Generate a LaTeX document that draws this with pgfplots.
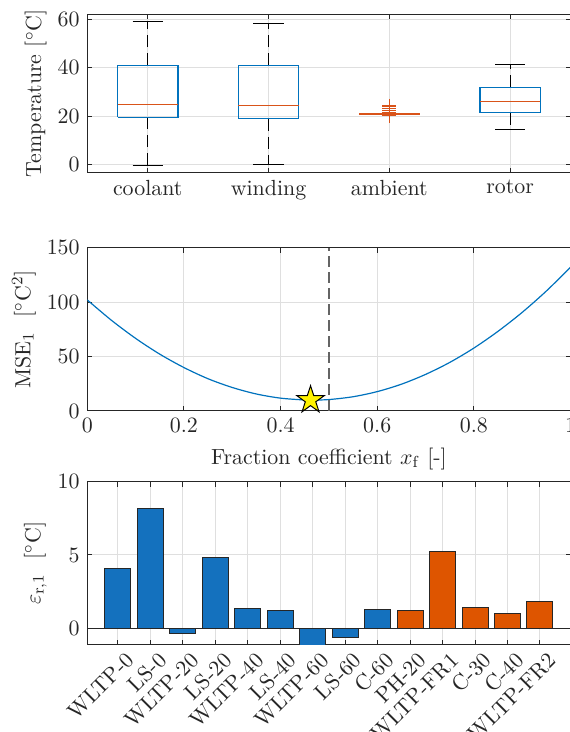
\documentclass[11pt,border=0pt]{standalone}
\usepackage{pgfplots}
\pgfplotsset{compat=1.18}
\definecolor{mblue}{RGB}{0,114,189}
\definecolor{morange}{RGB}{217,83,25}
\definecolor{barblue}{RGB}{20,113,190}
\definecolor{barorange}{RGB}{222,85,0}
\definecolor{axc}{RGB}{38,38,38}
\definecolor{gridc}{RGB}{223,223,223}
\definecolor{dashc}{RGB}{100,100,100}
\pgfdeclareplotmark{pentastar}{%
  \pgfpathmoveto{\pgfpointpolar{90}{\pgfplotmarksize}}%
  \pgfpathlineto{\pgfpointpolar{126}{0.382\pgfplotmarksize}}%
  \pgfpathlineto{\pgfpointpolar{162}{\pgfplotmarksize}}%
  \pgfpathlineto{\pgfpointpolar{198}{0.382\pgfplotmarksize}}%
  \pgfpathlineto{\pgfpointpolar{234}{\pgfplotmarksize}}%
  \pgfpathlineto{\pgfpointpolar{270}{0.382\pgfplotmarksize}}%
  \pgfpathlineto{\pgfpointpolar{306}{\pgfplotmarksize}}%
  \pgfpathlineto{\pgfpointpolar{342}{0.382\pgfplotmarksize}}%
  \pgfpathlineto{\pgfpointpolar{18}{\pgfplotmarksize}}%
  \pgfpathlineto{\pgfpointpolar{54}{0.382\pgfplotmarksize}}%
  \pgfpathclose
  \pgfusepathqfillstroke}
\pgfplotsset{myax/.style={
  scale only axis, width=241.6pt, anchor=south west,
  axis line style={axc, line width=0.5pt},
  tick style={axc, line width=0.5pt},
  major tick length=2.5pt, tick align=inside,
  grid=major, major grid style={gridc, line width=0.5pt},
  tick label style={text=axc},
  label style={text=axc},
  ylabel shift=-2pt,
}}
\begin{document}
\begin{tikzpicture}
% ---------- top: boxplots ----------
\begin{axis}[myax, at={(43.65pt,279.65pt)}, height=79.2pt,
  xmin=0.5, xmax=4.5, ymin=-3.2, ymax=62.1,
  xtick={1,2,3,4}, xticklabels={coolant,winding,ambient,rotor},
  ytick={0,20,40,60},
  ylabel={Temperature [$^\circ$C]}]
% whiskers (dashed)
\addplot[black, line width=0.5pt, dash pattern=on 6pt off 3pt] coordinates {(1,41.1) (1,59.3)};
\addplot[black, line width=0.5pt, dash pattern=on 6pt off 3pt] coordinates {(1,19.7) (1,-0.2)};
\addplot[black, line width=0.5pt, dash pattern=on 6pt off 3pt] coordinates {(2,41.1) (2,58.2)};
\addplot[black, line width=0.5pt, dash pattern=on 6pt off 3pt] coordinates {(2,19.0) (2,0.1)};
\addplot[black, line width=0.5pt, dash pattern=on 6pt off 3pt] coordinates {(4,32.0) (4,41.4)};
\addplot[black, line width=0.5pt, dash pattern=on 6pt off 3pt] coordinates {(4,21.5) (4,14.4)};
% caps
\addplot[black, line width=0.5pt] coordinates {(0.875,59.3) (1.125,59.3)};
\addplot[black, line width=0.5pt] coordinates {(0.875,-0.2) (1.125,-0.2)};
\addplot[black, line width=0.5pt] coordinates {(1.875,58.2) (2.125,58.2)};
\addplot[black, line width=0.5pt] coordinates {(1.875,0.1) (2.125,0.1)};
\addplot[black, line width=0.5pt] coordinates {(2.875,20.8) (3.125,20.8)};
\addplot[black, line width=0.5pt] coordinates {(2.875,21.3) (3.125,21.3)};
\addplot[black, line width=0.5pt] coordinates {(3.875,41.4) (4.125,41.4)};
\addplot[black, line width=0.5pt] coordinates {(3.875,14.4) (4.125,14.4)};
% boxes
\addplot[mblue, line width=0.6pt] coordinates {(0.75,19.7) (1.25,19.7) (1.25,41.1) (0.75,41.1) (0.75,19.7)};
\addplot[mblue, line width=0.6pt] coordinates {(1.75,19.0) (2.25,19.0) (2.25,41.1) (1.75,41.1) (1.75,19.0)};
\addplot[mblue, line width=0.6pt] coordinates {(2.75,20.9) (3.25,20.9) (3.25,21.2) (2.75,21.2) (2.75,20.9)};
\addplot[mblue, line width=0.6pt] coordinates {(3.75,21.5) (4.25,21.5) (4.25,32.0) (3.75,32.0) (3.75,21.5)};
% medians
\addplot[morange, line width=0.6pt] coordinates {(0.75,24.8) (1.25,24.8)};
\addplot[morange, line width=0.6pt] coordinates {(1.75,24.4) (2.25,24.4)};
\addplot[morange, line width=0.7pt] coordinates {(2.75,21.05) (3.25,21.05)};
\addplot[morange, line width=0.6pt] coordinates {(3.75,26.1) (4.25,26.1)};
% outliers
\addplot[only marks, mark=+, mark size=3.5pt, morange, mark options={line width=0.6pt}]
  coordinates {(3,24.3) (3,23.2) (3,22.4) (3,21.4) (3,20.8) (3,20.3)};
\end{axis}
% ---------- middle: MSE curve ----------
\begin{axis}[myax, at={(43.65pt,160.5pt)}, height=81.65pt,
  xmin=0, xmax=1, ymin=0, ymax=150,
  xtick={0,0.2,0.4,0.6,0.8,1}, ytick={0,50,100,150},
  xlabel={Fraction coefficient $x_\mathrm{f}$ [-]},
  ylabel={MSE$_1$\ \ [$^\circ$C$^2$]},
  clip mode=individual]
\addplot[mblue, line width=0.6pt, smooth] coordinates {
(0,102.0) (0.05,83.3) (0.1,66.7) (0.15,52.2) (0.2,39.9) (0.25,29.6)
(0.3,21.6) (0.35,15.6) (0.4,11.8) (0.45,10.1) (0.4648,10.0) (0.5,10.5)
(0.55,13.1) (0.6,17.8) (0.65,24.6) (0.7,33.6) (0.75,44.6) (0.8,57.8)
(0.85,73.2) (0.9,90.6) (0.95,110.2) (1.0,132.0)};
\addplot[dashc, line width=0.6pt, dash pattern=on 5.5pt off 2.5pt] coordinates {(0.5,0) (0.5,150)};
\addplot[only marks, mark=pentastar, mark size=7.2pt, mark options={fill=yellow, draw=black, line width=0.5pt}]
  coordinates {(0.462,10.0)};
\end{axis}
% ---------- bottom: bars ----------
\begin{axis}[myax, at={(43.65pt,43.5pt)}, height=81.65pt,
  xmin=0.06, xmax=14.94, ymin=-1.14, ymax=10,
  xtick={1,2,3,4,5,6,7,8,9,10,11,12,13,14},
  xticklabels={WLTP-0,LS-0,WLTP-20,LS-20,WLTP-40,LS-40,WLTP-60,LS-60,C-60,PH-20,WLTP-FR1,C-30,C-40,WLTP-FR2},
  xticklabel style={rotate=45, anchor=east, yshift=-8.5pt, xshift=4pt},
  ytick={0,5,10},
  ylabel={$\varepsilon_{\mathrm{r},1}$\ \ [$^\circ$C]}]
\addplot[ybar, bar width=0.8, bar shift=0pt, fill=barblue, draw=axc, line width=0.5pt] coordinates {
(1,4.06) (2,8.16) (3,-0.34) (4,4.80) (5,1.32) (6,1.23) (7,-1.3) (8,-0.63) (9,1.30)};
\addplot[ybar, bar width=0.8, bar shift=0pt, fill=barorange, draw=axc, line width=0.5pt] coordinates {
(10,1.20) (11,5.23) (12,1.41) (13,0.98) (14,1.83)};
\addplot[axc, line width=0.6pt] coordinates {(0.06,0) (14.94,0)};
\end{axis}
\pgfresetboundingbox
\path (0,0) rectangle (284.5pt,366pt);
\end{tikzpicture}
\end{document}
